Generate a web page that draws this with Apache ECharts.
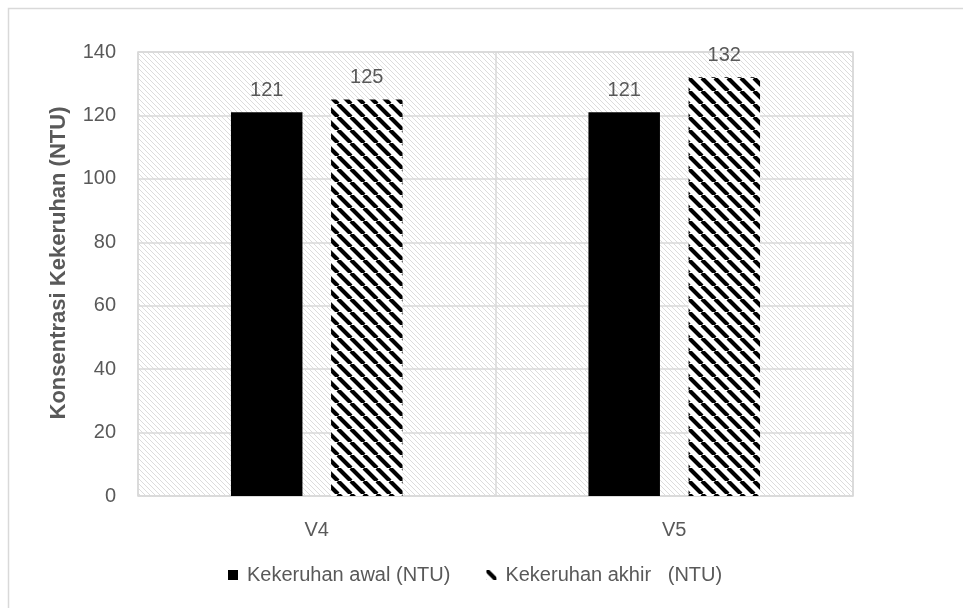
<!DOCTYPE html>
<html>
<head>
<meta charset="utf-8">
<script src="https://cdn.jsdelivr.net/npm/echarts@6/dist/echarts.min.js"></script>
<style>
  html, body { margin: 0; padding: 0; background: #fff; }
  #chart { width: 963px; height: 608px; }
</style>
</head>
<body>
<div id="chart"></div>
<script>
// Turbidity before and after treatment per sample
const categories = ['V4', 'V5'];
const seriesNames = ['Kekeruhan awal (NTU)', 'Kekeruhan akhir   (NTU)'];
const awalValues = [121, 121];
const akhirValues = [125, 132];
const yTicks = { min: 0, max: 140, interval: 20 };

const FONT = 'Liberation Sans';
const TEXT = '#595959';

// Diagonal stripe tile ("\" direction), repeated as a fill pattern
function stripeTile(size, lineWidth, stroke, bg) {
  const c = document.createElement('canvas');
  c.width = size; c.height = size;
  const g = c.getContext('2d');
  g.fillStyle = bg; g.fillRect(0, 0, size, size);
  g.strokeStyle = stroke; g.lineWidth = lineWidth;
  g.beginPath();
  for (let k = -1; k <= 1; k++) {
    g.moveTo(k * size, 0);
    g.lineTo(k * size + size, size);
  }
  g.stroke();
  return c;
}

const barHatch = { image: stripeTile(13, 4.2, '#000', '#fff'), repeat: 'repeat' };
const plotHatch = { image: stripeTile(5, 1, '#dcdcdc', '#fff'), repeat: 'repeat' };

const chart = echarts.init(document.getElementById('chart'), null, { renderer: 'canvas' });

chart.setOption({
  animation: false,
  backgroundColor: '#fff',
  graphic: [{
    type: 'rect',
    shape: { x: 8.5, y: 8.5, width: 970, height: 620 },
    style: { fill: 'none', stroke: '#d9d9d9', lineWidth: 1.5 },
    silent: true,
    z: -10
  }],
  grid: {
    left: 138, right: 110, top: 52, bottom: 112,
    show: true,
    backgroundColor: plotHatch,
    borderColor: '#d9d9d9',
    borderWidth: 1.5
  },
  legend: {
    bottom: 18,
    left: 223,
    itemGap: 36,
    itemWidth: 10,
    itemHeight: 10,
    textStyle: { fontFamily: FONT, fontSize: 20, color: TEXT, padding: [0, 0, 0, 4] },
    data: [
      { name: seriesNames[0], icon: 'rect' },
      { name: seriesNames[1], icon: 'rect' }
    ]
  },
  xAxis: {
    type: 'category',
    data: categories,
    axisLine: { show: false },
    axisTick: { show: false },
    axisLabel: { margin: 24, fontFamily: FONT, fontSize: 20, color: TEXT },
    splitLine: { show: true, lineStyle: { color: '#d9d9d9', width: 1.5 } }
  },
  yAxis: {
    type: 'value',
    min: yTicks.min, max: yTicks.max, interval: yTicks.interval,
    name: 'Konsentrasi Kekeruhan (NTU)',
    nameLocation: 'middle',
    nameGap: 68,
    nameTextStyle: { fontFamily: FONT, fontSize: 22, fontWeight: 'bold', color: TEXT, padding: [0, 0, 0, 22] },
    axisLine: { show: false },
    axisTick: { show: false },
    axisLabel: { margin: 22, fontFamily: FONT, fontSize: 20, color: TEXT },
    splitLine: { show: true, lineStyle: { color: '#d9d9d9', width: 1.5 } }
  },
  series: [
    {
      name: seriesNames[0],
      type: 'bar',
      data: awalValues,
      barWidth: '20%',
      barGap: '40%',
      itemStyle: { color: '#000' },
      label: { show: true, position: 'top', distance: 12, fontFamily: FONT, fontSize: 20, color: TEXT }
    },
    {
      name: seriesNames[1],
      type: 'bar',
      data: akhirValues,
      barWidth: '20%',
      barGap: '40%',
      itemStyle: { color: barHatch },
      label: { show: true, position: 'top', distance: 12, fontFamily: FONT, fontSize: 20, color: TEXT }
    }
  ]
});
</script>
</body>
</html>
